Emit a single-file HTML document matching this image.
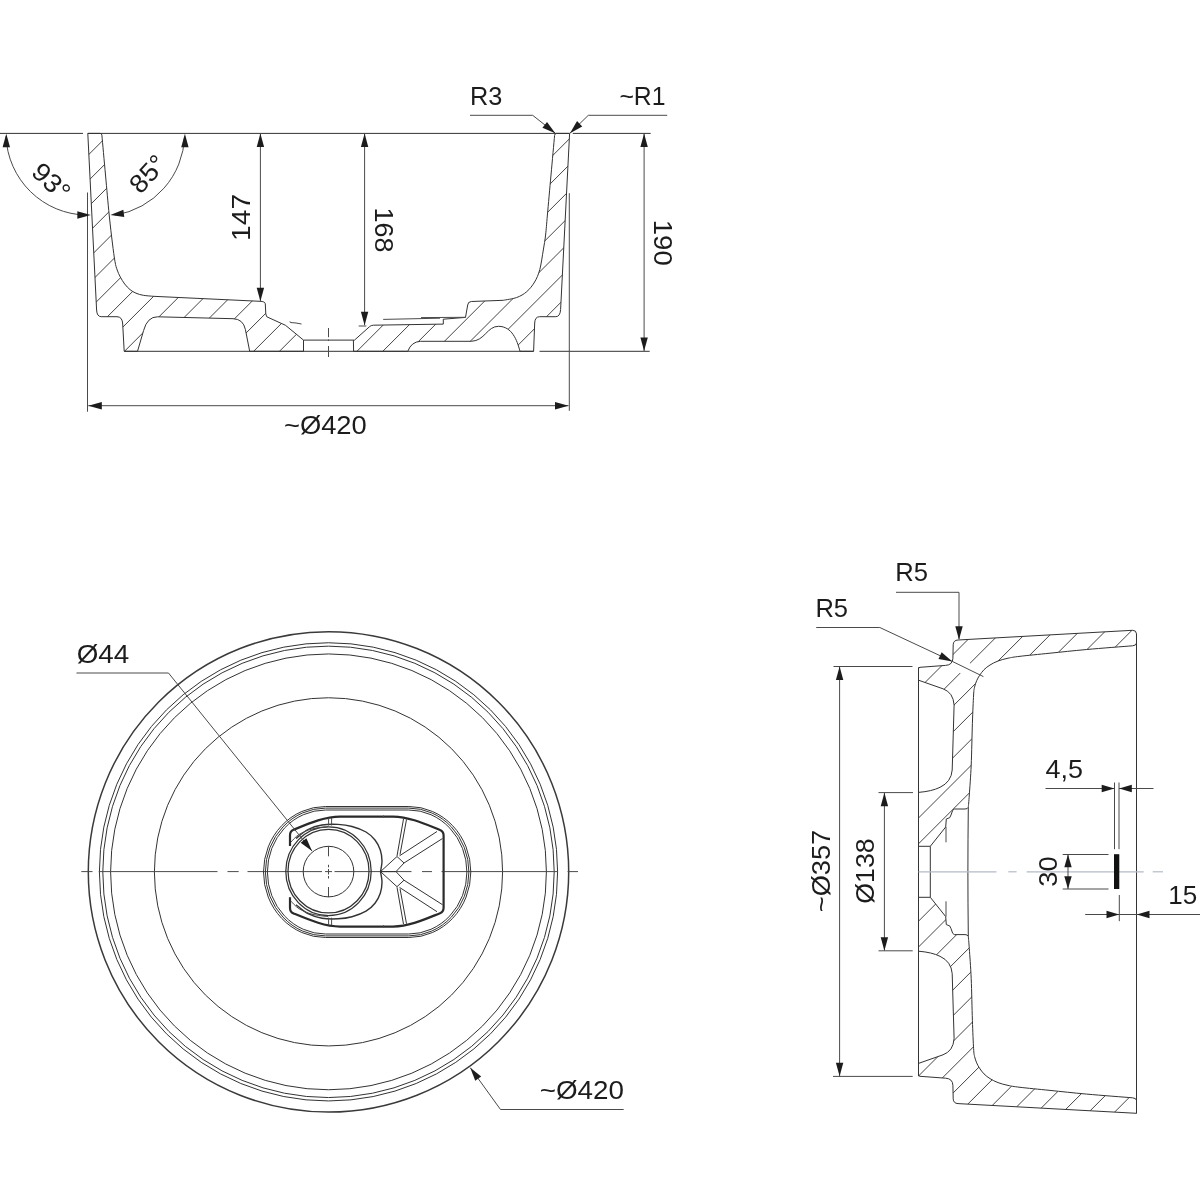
<!DOCTYPE html>
<html lang="en"><head><meta charset="utf-8"><title>Washbasin technical drawing</title>
<style>
html,body{margin:0;padding:0;background:#fff}
body{width:1200px;height:1200px;overflow:hidden}
svg{display:block}
.l{fill:none;stroke:#333;stroke-width:1}
.t{fill:none;stroke:#4a4a4a;stroke-width:1}
.l2{fill:none;stroke:#333;stroke-width:1.25}
.h{fill:none;stroke:#3a3a3a;stroke-width:.95}
.b{fill:none;stroke:#2a2a2a;stroke-width:2.2;stroke-linejoin:round}
.c{fill:none;stroke:#b4bac6;stroke-width:1.2}
.a{fill:#1c1c1c;stroke:none}
text{font-family:"Liberation Sans",sans-serif;font-size:26px;fill:#1c1c1c;filter:grayscale(1)}
</style></head><body>
<svg width="1200" height="1200" viewBox="0 0 1200 1200">
<rect width="1200" height="1200" fill="#fff"/>
<g id="section-front">
<defs><clipPath id="cp1"><path d="M87.8,133.4 L100.2,133.4 Q101.7,133.4 101.9,135.2 L101.9,135.2C102.5,141.83 104.28,161.7 105.5,175C106.72,188.3 108.05,203.67 109.2,215C110.35,226.33 111.43,235.22 112.4,243C113.37,250.78 114.2,257.2 115,261.7C115.8,266.2 116.32,267.45 117.2,270C118.08,272.55 119.05,274.67 120.3,277C121.55,279.33 123.08,281.9 124.7,284C126.32,286.1 128.12,288.07 130,289.6C131.88,291.13 133.78,292.25 136,293.2C138.22,294.15 140.42,294.78 143.3,295.3C146.18,295.82 151.63,296.13 153.3,296.3L260,301.3 Q264.9,301.4 265.3,303.8 L265.8,314 L266.8,316.8 L285.5,325.3 L303.5,340.1 L303.5,351.3 L249.7,351.3 L245.4,329.5 Q243.2,319 233,318.7 L157.5,316.8 Q147.3,316.8 143.6,330.5 L137.5,351.3 L124.2,351.3 L122.7,324 Q122.4,316.8 117,316.7 L101.2,316.7 Q96.9,316.6 96.6,310 Z"/><path d="M353.6,351.3 L353.4,340.1 L354.5,340.1 L369.6,326.6 Q370.9,325.3 373.5,325.2 L443.3,324.1 L443.3,319.2 L465.5,317.4 L467.7,305 Q467.9,301.7 471.3,301.5 L503.3,300.3C505.53,299.83 512.8,298.93 516.7,297.5C520.6,296.07 523.72,294.28 526.7,291.7C529.68,289.12 532.42,285.7 534.6,282C536.78,278.3 538.35,274.83 539.8,269.5C541.25,264.17 542.33,255.75 543.3,250C544.27,244.25 544.92,240.83 545.6,235C546.28,229.17 546.5,225 547.4,215C548.3,205 549.8,188.27 551,175C552.2,161.73 554,142 554.6,135.4Q554.8,133.4 556.4,133.4 L569.6,133.4 L560.6,309.5 Q560.2,316.6 555.8,316.7 L539.6,316.7 Q534.9,316.8 534.7,323 L533.6,351.3 L520,351.3 C517,340 512,326.5 498.6,326.3 C487,326.2 485,340.8 471.3,341.3 L420.5,341.3 Q411.2,341.8 407.8,351.3 Z"/></clipPath></defs>
<g clip-path="url(#cp1)">
<line class="h" x1="80" y1="163.3" x2="580" y2="-336.7"/>
<line class="h" x1="80" y1="189.13" x2="580" y2="-310.87"/>
<line class="h" x1="80" y1="214.96" x2="580" y2="-285.04"/>
<line class="h" x1="80" y1="240.79" x2="580" y2="-259.21"/>
<line class="h" x1="80" y1="266.62" x2="580" y2="-233.38"/>
<line class="h" x1="80" y1="292.45" x2="580" y2="-207.55"/>
<line class="h" x1="80" y1="318.28" x2="580" y2="-181.72"/>
<line class="h" x1="80" y1="344.11" x2="580" y2="-155.89"/>
<line class="h" x1="80" y1="369.94" x2="580" y2="-130.06"/>
<line class="h" x1="80" y1="395.77" x2="580" y2="-104.23"/>
<line class="h" x1="80" y1="421.6" x2="580" y2="-78.4"/>
<line class="h" x1="80" y1="447.43" x2="580" y2="-52.57"/>
<line class="h" x1="80" y1="473.26" x2="580" y2="-26.74"/>
<line class="h" x1="80" y1="499.09" x2="580" y2="-0.91"/>
<line class="h" x1="80" y1="524.92" x2="580" y2="24.92"/>
<line class="h" x1="80" y1="550.75" x2="580" y2="50.75"/>
<line class="h" x1="80" y1="576.58" x2="580" y2="76.58"/>
<line class="h" x1="80" y1="602.41" x2="580" y2="102.41"/>
<line class="h" x1="80" y1="628.24" x2="580" y2="128.24"/>
<line class="h" x1="80" y1="654.07" x2="580" y2="154.07"/>
<line class="h" x1="80" y1="679.9" x2="580" y2="179.9"/>
<line class="h" x1="80" y1="705.73" x2="580" y2="205.73"/>
<line class="h" x1="80" y1="731.56" x2="580" y2="231.56"/>
<line class="h" x1="80" y1="757.39" x2="580" y2="257.39"/>
<line class="h" x1="80" y1="783.22" x2="580" y2="283.22"/>
<line class="h" x1="80" y1="809.05" x2="580" y2="309.05"/>
<line class="h" x1="80" y1="834.88" x2="580" y2="334.88"/>
</g>
<path class="l" d="M87.8,133.4 L100.2,133.4 Q101.7,133.4 101.9,135.2 L101.9,135.2C102.5,141.83 104.28,161.7 105.5,175C106.72,188.3 108.05,203.67 109.2,215C110.35,226.33 111.43,235.22 112.4,243C113.37,250.78 114.2,257.2 115,261.7C115.8,266.2 116.32,267.45 117.2,270C118.08,272.55 119.05,274.67 120.3,277C121.55,279.33 123.08,281.9 124.7,284C126.32,286.1 128.12,288.07 130,289.6C131.88,291.13 133.78,292.25 136,293.2C138.22,294.15 140.42,294.78 143.3,295.3C146.18,295.82 151.63,296.13 153.3,296.3L260,301.3 Q264.9,301.4 265.3,303.8 L265.8,314 L266.8,316.8 L285.5,325.3 L303.5,340.1 L303.5,351.3 L249.7,351.3 L245.4,329.5 Q243.2,319 233,318.7 L157.5,316.8 Q147.3,316.8 143.6,330.5 L137.5,351.3 L124.2,351.3 L122.7,324 Q122.4,316.8 117,316.7 L101.2,316.7 Q96.9,316.6 96.6,310 Z"/>
<path class="l" d="M353.6,351.3 L353.4,340.1 L354.5,340.1 L369.6,326.6 Q370.9,325.3 373.5,325.2 L443.3,324.1 L443.3,319.2 L465.5,317.4 L467.7,305 Q467.9,301.7 471.3,301.5 L503.3,300.3C505.53,299.83 512.8,298.93 516.7,297.5C520.6,296.07 523.72,294.28 526.7,291.7C529.68,289.12 532.42,285.7 534.6,282C536.78,278.3 538.35,274.83 539.8,269.5C541.25,264.17 542.33,255.75 543.3,250C544.27,244.25 544.92,240.83 545.6,235C546.28,229.17 546.5,225 547.4,215C548.3,205 549.8,188.27 551,175C552.2,161.73 554,142 554.6,135.4Q554.8,133.4 556.4,133.4 L569.6,133.4 L560.6,309.5 Q560.2,316.6 555.8,316.7 L539.6,316.7 Q534.9,316.8 534.7,323 L533.6,351.3 L520,351.3 C517,340 512,326.5 498.6,326.3 C487,326.2 485,340.8 471.3,341.3 L420.5,341.3 Q411.2,341.8 407.8,351.3 Z"/>
<line class="l" x1="0" y1="133.4" x2="83" y2="133.4"/>
<line class="l" x1="87.8" y1="133.4" x2="569.6" y2="133.4"/>
<line class="l" x1="572.8" y1="133.4" x2="650.7" y2="133.4"/>
<line class="l" x1="124.2" y1="351.3" x2="533.6" y2="351.3"/>
<line class="l" x1="539.5" y1="351.3" x2="649.7" y2="351.3"/>
<line class="l" x1="303.5" y1="340.1" x2="353.4" y2="340.1"/>
<path class="t" d="M290,321.4 L290.3,322.5 L296,323 L301.5,324"/>
<line class="t" x1="328.5" y1="328" x2="328.5" y2="337.2"/>
<line class="t" x1="328.5" y1="339.5" x2="328.5" y2="341"/>
<line class="t" x1="328.5" y1="346" x2="328.5" y2="357"/>
<line class="t" x1="383.2" y1="319.4" x2="440" y2="318.2"/>
<line class="t" x1="421" y1="317.6" x2="465.5" y2="317.3"/>
<line class="t" x1="358.7" y1="326" x2="366.3" y2="326"/>
<line class="t" x1="87.5" y1="192.5" x2="87.5" y2="411.7"/>
<line class="t" x1="569.3" y1="193.2" x2="569.3" y2="410.8"/>
<line class="t" x1="88.3" y1="405.7" x2="568.5" y2="405.7"/>
<polygon class="a" points="88.3,405.7 101.8,402 101.8,409.4"/>
<polygon class="a" points="568.5,405.7 555,409.4 555,402"/>
<text transform="translate(325.4 433.7) scale(1.052 1)" x="-39.44" y="0">~Ø420</text>
<line class="t" x1="260.4" y1="133.4" x2="260.4" y2="300.8"/>
<polygon class="a" points="260.4,133.4 264.1,146.9 256.7,146.9"/>
<polygon class="a" points="260.4,301.3 256.7,287.8 264.1,287.8"/>
<text transform="translate(250.2 217.1) rotate(-90) scale(1.083 1)" x="-22" y="0">147</text>
<line class="t" x1="364.6" y1="133.4" x2="364.6" y2="325.2"/>
<polygon class="a" points="364.6,133.4 368.3,146.9 360.9,146.9"/>
<polygon class="a" points="364.6,325.2 360.9,311.7 368.3,311.7"/>
<text transform="translate(374.6 230.4) rotate(90) scale(1.039 1)" x="-22.13" y="0">168</text>
<line class="t" x1="644.1" y1="133.4" x2="644.1" y2="351"/>
<polygon class="a" points="644.1,133.4 647.8,146.9 640.4,146.9"/>
<polygon class="a" points="644.1,351.1 640.4,337.6 647.8,337.6"/>
<text transform="translate(654.3 243.2) rotate(90) scale(1.064 1)" x="-22.13" y="0">190</text>
<path class="t" d="M470,115.3 L532.7,115.3 L555.3,133.2"/>
<polygon class="a" points="555.3,133.2 542.42,127.72 547.01,121.92"/>
<path class="t" d="M667.2,115.3 L588.3,115.3 L570,133.2"/>
<polygon class="a" points="570,133.2 577.06,121.12 582.24,126.41"/>
<text transform="translate(486.6 104.5) scale(0.973 1)" x="-17.19" y="0">R3</text>
<text transform="translate(642.4 104.5) scale(0.953 1)" x="-24.13" y="0">~R1</text>
<path class="t" d="M6,136.4 A82,82 0 0 0 86.29,215.09"/>
<polygon class="a" points="6.3,133.8 10,147.3 2.6,147.3"/>
<polygon class="a" points="90.8,215 77.3,218.7 77.3,211.3"/>
<text transform="translate(44.9 187.9) rotate(43.5) scale(1.062 1)" x="-19.4" y="0">93°</text>
<path class="t" d="M184.6,136.4 A82.6,82.6 0 0 1 115.2,215.09"/>
<polygon class="a" points="184.9,133.8 188.6,147.3 181.2,147.3"/>
<polygon class="a" points="110.4,215 123.35,209.68 124.25,217.03"/>
<text transform="translate(154.1 180.1) rotate(-47.5) scale(1.035 1)" x="-19.4" y="0">85°</text>
</g>
<g id="plan">
<circle cx="328.5" cy="871.85" r="240.2" fill="none" stroke="#3a3a3a" stroke-width="1.5"/>
<circle class="l" cx="328.5" cy="871.85" r="229.1"/>
<circle class="l" cx="328.5" cy="871.85" r="225.7"/>
<circle class="l" cx="328.5" cy="871.85" r="217.9"/>
<circle class="l" cx="328.5" cy="871.85" r="174.1"/>
<line class="t" x1="81.3" y1="871.6" x2="92.5" y2="871.6"/>
<line class="t" x1="98.8" y1="871.6" x2="217.5" y2="871.6"/>
<line class="t" x1="227.5" y1="871.6" x2="238.7" y2="871.6"/>
<line class="t" x1="247.5" y1="871.6" x2="322" y2="871.6"/>
<line class="t" x1="325" y1="871.6" x2="332" y2="871.6"/>
<line class="t" x1="334.5" y1="871.6" x2="411.5" y2="871.6"/>
<line class="t" x1="422" y1="871.6" x2="432" y2="871.6"/>
<line class="t" x1="441.5" y1="871.6" x2="558" y2="871.6"/>
<line class="t" x1="567.5" y1="871.6" x2="578" y2="871.6"/>
<line class="t" x1="328.5" y1="846.3" x2="328.5" y2="856.3"/>
<line class="t" x1="328.5" y1="864.8" x2="328.5" y2="867.3"/>
<line class="t" x1="328.5" y1="869" x2="328.5" y2="874.5"/>
<line class="t" x1="328.5" y1="876" x2="328.5" y2="878.5"/>
<line class="t" x1="328.5" y1="887" x2="328.5" y2="897"/>
<rect class="l" x="263.5" y="806.5" width="207.3" height="131" rx="62" ry="65.5"/>
<rect class="l" x="265.4" y="808.1" width="203.5" height="127.8" rx="60.1" ry="63.9"/>
<rect class="l" x="267.4" y="810" width="199.5" height="124" rx="58.1" ry="62"/>
<path class="b" d="M290,846 L290,835.5 Q290,831 293.5,829.8 C310,823 325,816.6 340,816.6 L393,816.6 C410,817 425,824 440,830 Q443.6,831.5 443.6,835.5 L443.6,871.6"/>
<path class="b" d="M290,897.2 L290,907.7 Q290,912.2 293.5,913.4 C310,920.2 325,926.6 340,926.6 L393,926.6 C410,926.2 425,919.2 440,913.2 Q443.6,911.7 443.6,907.7 L443.6,871.6"/>
<ellipse class="l2" cx="328.5" cy="871.2" rx="42.7" ry="44.35"/>
<ellipse class="l2" cx="328.5" cy="871.2" rx="40.5" ry="41.75"/>
<circle class="l" cx="328.5" cy="871.6" r="25.3"/>
<path class="l" d="M380.5,871.6C380.75,869.83 382.03,864.6 382,861C381.97,857.4 381.47,853.5 380.3,850C379.13,846.5 377.38,843 375,840C372.62,837 369.83,834.25 366,832C362.17,829.75 356.67,827.77 352,826.5C347.33,825.23 343,824.65 338,824.4C333,824.15 327,824.15 322,825C317,825.85 312.33,827.25 308,829.5C303.67,831.75 298,837 296,838.5" style="stroke-width:1.4"/>
<path class="l" d="M380.5,871.6C380.75,873.37 382.03,878.6 382,882.2C381.97,885.8 381.47,889.7 380.3,893.2C379.13,896.7 377.38,900.2 375,903.2C372.62,906.2 369.83,908.95 366,911.2C362.17,913.45 356.67,915.43 352,916.7C347.33,917.97 343,918.55 338,918.8C333,919.05 327,919.05 322,918.2C317,917.35 312.33,915.95 308,913.7C303.67,911.45 298,906.2 296,904.7" style="stroke-width:1.4"/>
<path class="t" d="M291,842C292.33,840.75 295.5,836.67 299,834.5C302.5,832.33 307.17,830.32 312,829C316.83,827.68 325.33,827 328,826.6"/>
<path class="t" d="M291,901.2C292.33,902.45 295.5,906.53 299,908.7C302.5,910.87 307.17,912.88 312,914.2C316.83,915.52 325.33,916.2 328,916.6"/>
<line class="t" x1="328.6" y1="818" x2="328.6" y2="825.5"/>
<line class="t" x1="328.6" y1="925.2" x2="328.6" y2="917.7"/>
<line class="t" x1="331.6" y1="818" x2="331.6" y2="825.5"/>
<line class="t" x1="331.6" y1="925.2" x2="331.6" y2="917.7"/>
<line class="t" x1="383.5" y1="815.5" x2="383.5" y2="818"/>
<line class="t" x1="383.5" y1="927.7" x2="383.5" y2="925.2"/>
<line class="l" x1="380.5" y1="871.6" x2="397" y2="856.5"/>
<line class="l" x1="396" y1="871.6" x2="404" y2="863"/>
<line class="l" x1="397" y1="856.5" x2="404" y2="863"/>
<line class="l" x1="399.5" y1="855.8" x2="437" y2="831.5"/>
<line class="l" x1="404" y1="863" x2="442.5" y2="838.5"/>
<line class="l" x1="397" y1="856" x2="403.5" y2="819"/>
<line class="l" x1="400" y1="854.5" x2="406.5" y2="819.5"/>
<line class="l" x1="380.5" y1="871.6" x2="397" y2="886.7"/>
<line class="l" x1="396" y1="871.6" x2="404" y2="880.2"/>
<line class="l" x1="397" y1="886.7" x2="404" y2="880.2"/>
<line class="l" x1="399.5" y1="887.4" x2="437" y2="911.7"/>
<line class="l" x1="404" y1="880.2" x2="442.5" y2="904.7"/>
<line class="l" x1="397" y1="887.2" x2="403.5" y2="924.2"/>
<line class="l" x1="400" y1="888.7" x2="406.5" y2="923.7"/>
<line class="l" x1="380.5" y1="871.6" x2="396" y2="871.6"/>
<path class="t" d="M76.5,673 L168.5,673 L312,851"/>
<polygon class="a" points="312,851 300.65,842.81 306.41,838.17"/>
<text transform="translate(103 662.8) scale(1.070 1)" x="-24.62" y="0">Ø44</text>
<path class="t" d="M623.7,1109.5 L500.5,1109.5 L470.3,1067.7"/>
<polygon class="a" points="470.3,1067.7 481.21,1076.48 475.21,1080.81"/>
<text transform="translate(581.9 1099.2) scale(1.070 1)" x="-39.44" y="0">~Ø420</text>
</g>
<g id="section-side">
<defs><clipPath id="cp3"><path d="M918.5,668.9 Q918.5,667.4 920,667.3 L945.6,665.4 Q952.6,665 952.9,658.3 L953.2,644.8 Q953.4,640.2 958,640 L1132.5,630.3 Q1136.4,630.2 1136.5,633.9 L1136.5,643.1 Q1136.3,645.6 1132.5,645.8 L1132.5,645.8C1124.87,646.42 1100.45,648.27 1086.7,649.5C1072.95,650.73 1061.12,652.07 1050,653.2C1038.88,654.33 1027,655.47 1020,656.3C1013,657.13 1011.67,657.42 1008,658.2C1004.33,658.98 1001,659.87 998,661C995,662.13 992.33,663.55 990,665C987.67,666.45 985.75,667.95 984,669.7C982.25,671.45 980.72,673.67 979.5,675.5C978.28,677.33 977.52,678.78 976.7,680.7C975.88,682.62 975.12,684.62 974.6,687C974.08,689.38 973.97,688.95 973.6,695C973.23,701.05 972.8,711.63 972.4,723.3C972,734.97 971.72,753.05 971.2,765C970.68,776.95 969.78,787.95 969.3,795C968.82,802.05 968.47,805.25 968.3,807.3Q967.6,809 965,809 L954.3,809 L952.7,810.3 L951,815 L949.7,817.7 L946.3,819 L945.7,827 L930.3,846.3 L918.5,846.3 L918.5,792.4 Q932,791.3 940,787.3 Q951.3,782 952.2,770 L954.1,705 Q953.3,692.5 943,688.8 L918.5,680.2 Z"/><path d="M918.5,668.9 Q918.5,667.4 920,667.3 L945.6,665.4 Q952.6,665 952.9,658.3 L953.2,644.8 Q953.4,640.2 958,640 L1136.5,630.3 L1136.5,643.1 Q1136.3,645.6 1132.5,645.8 L1132.5,645.8C1124.87,646.42 1100.45,648.27 1086.7,649.5C1072.95,650.73 1061.12,652.07 1050,653.2C1038.88,654.33 1027,655.47 1020,656.3C1013,657.13 1011.67,657.42 1008,658.2C1004.33,658.98 1001,659.87 998,661C995,662.13 992.33,663.55 990,665C987.67,666.45 985.75,667.95 984,669.7C982.25,671.45 980.72,673.67 979.5,675.5C978.28,677.33 977.52,678.78 976.7,680.7C975.88,682.62 975.12,684.62 974.6,687C974.08,689.38 973.97,688.95 973.6,695C973.23,701.05 972.8,711.63 972.4,723.3C972,734.97 971.72,753.05 971.2,765C970.68,776.95 969.78,787.95 969.3,795C968.82,802.05 968.47,805.25 968.3,807.3Q967.6,809 965,809 L954.3,809 L952.7,810.3 L951,815 L949.7,817.7 L946.3,819 L945.7,827 L930.3,846.3 L918.5,846.3 L918.5,792.4 Q932,791.3 940,787.3 Q951.3,782 952.2,770 L954.1,705 Q953.3,692.5 943,688.8 L918.5,680.2 Z" transform="matrix(1 0 0 -1 0 1743.6)"/></clipPath></defs>
<g clip-path="url(#cp3)">
<line class="h" x1="900" y1="655.9" x2="1150" y2="405.9"/>
<line class="h" x1="900" y1="681.7" x2="1150" y2="431.7"/>
<line class="h" x1="900" y1="707.5" x2="1150" y2="457.5"/>
<line class="h" x1="900" y1="733.3" x2="1150" y2="483.3"/>
<line class="h" x1="900" y1="759.1" x2="1150" y2="509.1"/>
<line class="h" x1="900" y1="784.9" x2="1150" y2="534.9"/>
<line class="h" x1="900" y1="810.7" x2="1150" y2="560.7"/>
<line class="h" x1="900" y1="836.5" x2="1150" y2="586.5"/>
<line class="h" x1="900" y1="862.3" x2="1150" y2="612.3"/>
<line class="h" x1="900" y1="888.1" x2="1150" y2="638.1"/>
<line class="h" x1="900" y1="913.9" x2="1150" y2="663.9"/>
<line class="h" x1="900" y1="939.7" x2="1150" y2="689.7"/>
<line class="h" x1="900" y1="965.5" x2="1150" y2="715.5"/>
<line class="h" x1="900" y1="991.3" x2="1150" y2="741.3"/>
<line class="h" x1="900" y1="1017.1" x2="1150" y2="767.1"/>
<line class="h" x1="900" y1="1042.9" x2="1150" y2="792.9"/>
<line class="h" x1="900" y1="1068.7" x2="1150" y2="818.7"/>
<line class="h" x1="900" y1="1094.5" x2="1150" y2="844.5"/>
<line class="h" x1="900" y1="1120.3" x2="1150" y2="870.3"/>
<line class="h" x1="900" y1="1146.1" x2="1150" y2="896.1"/>
<line class="h" x1="900" y1="1171.9" x2="1150" y2="921.9"/>
<line class="h" x1="900" y1="1197.7" x2="1150" y2="947.7"/>
<line class="h" x1="900" y1="1223.5" x2="1150" y2="973.5"/>
<line class="h" x1="900" y1="1249.3" x2="1150" y2="999.3"/>
<line class="h" x1="900" y1="1275.1" x2="1150" y2="1025.1"/>
<line class="h" x1="900" y1="1300.9" x2="1150" y2="1050.9"/>
<line class="h" x1="900" y1="1326.7" x2="1150" y2="1076.7"/>
<line class="h" x1="900" y1="1352.5" x2="1150" y2="1102.5"/>
<line class="h" x1="900" y1="1378.3" x2="1150" y2="1128.3"/>
</g>
<line x1="960.3" y1="673" x2="970" y2="663.3" stroke="#fff" stroke-width="2.4"/>
<path class="l" d="M918.5,668.9 Q918.5,667.4 920,667.3 L945.6,665.4 Q952.6,665 952.9,658.3 L953.2,644.8 Q953.4,640.2 958,640 L1132.5,630.3 Q1136.4,630.2 1136.5,633.9 L1136.5,643.1 Q1136.3,645.6 1132.5,645.8 L1132.5,645.8C1124.87,646.42 1100.45,648.27 1086.7,649.5C1072.95,650.73 1061.12,652.07 1050,653.2C1038.88,654.33 1027,655.47 1020,656.3C1013,657.13 1011.67,657.42 1008,658.2C1004.33,658.98 1001,659.87 998,661C995,662.13 992.33,663.55 990,665C987.67,666.45 985.75,667.95 984,669.7C982.25,671.45 980.72,673.67 979.5,675.5C978.28,677.33 977.52,678.78 976.7,680.7C975.88,682.62 975.12,684.62 974.6,687C974.08,689.38 973.97,688.95 973.6,695C973.23,701.05 972.8,711.63 972.4,723.3C972,734.97 971.72,753.05 971.2,765C970.68,776.95 969.78,787.95 969.3,795C968.82,802.05 968.47,805.25 968.3,807.3Q967.6,809 965,809 L954.3,809 L952.7,810.3 L951,815 L949.7,817.7 L946.3,819 L945.7,827 L930.3,846.3 L918.5,846.3 L918.5,792.4 Q932,791.3 940,787.3 Q951.3,782 952.2,770 L954.1,705 Q953.3,692.5 943,688.8 L918.5,680.2 Z"/>
<path class="l" d="M918.5,668.9 Q918.5,667.4 920,667.3 L945.6,665.4 Q952.6,665 952.9,658.3 L953.2,644.8 Q953.4,640.2 958,640 L1136.5,630.3 L1136.5,643.1 Q1136.3,645.6 1132.5,645.8 L1132.5,645.8C1124.87,646.42 1100.45,648.27 1086.7,649.5C1072.95,650.73 1061.12,652.07 1050,653.2C1038.88,654.33 1027,655.47 1020,656.3C1013,657.13 1011.67,657.42 1008,658.2C1004.33,658.98 1001,659.87 998,661C995,662.13 992.33,663.55 990,665C987.67,666.45 985.75,667.95 984,669.7C982.25,671.45 980.72,673.67 979.5,675.5C978.28,677.33 977.52,678.78 976.7,680.7C975.88,682.62 975.12,684.62 974.6,687C974.08,689.38 973.97,688.95 973.6,695C973.23,701.05 972.8,711.63 972.4,723.3C972,734.97 971.72,753.05 971.2,765C970.68,776.95 969.78,787.95 969.3,795C968.82,802.05 968.47,805.25 968.3,807.3Q967.6,809 965,809 L954.3,809 L952.7,810.3 L951,815 L949.7,817.7 L946.3,819 L945.7,827 L930.3,846.3 L918.5,846.3 L918.5,792.4 Q932,791.3 940,787.3 Q951.3,782 952.2,770 L954.1,705 Q953.3,692.5 943,688.8 L918.5,680.2 Z" transform="matrix(1 0 0 -1 0 1743.6)"/>
<line class="l" x1="918.5" y1="667.4" x2="918.5" y2="1076.2"/>
<line class="l" x1="1136.5" y1="633.9" x2="1136.5" y2="1113.3"/>
<path class="l" d="M968.3,807.3 Q967.9,840 967.9,871.8 Q967.9,903.6 968.3,936.3"/>
<path class="l" d="M930.3,846.3 L930.3,897.3"/>
<line class="t" x1="946" y1="827" x2="946" y2="842.3"/>
<line class="t" x1="946" y1="916.6" x2="946" y2="901.3"/>
<line class="c" x1="918.5" y1="871.8" x2="996.4" y2="871.8"/>
<line class="c" x1="1008.3" y1="871.8" x2="1016.6" y2="871.8"/>
<line class="c" x1="1026.7" y1="871.8" x2="1143.7" y2="871.8"/>
<line class="c" x1="1152.7" y1="871.8" x2="1163" y2="871.8"/>
<path class="t" d="M896,592.3 L959,592.3 L959,639"/>
<polygon class="a" points="959,639.8 955.3,626.3 962.7,626.3"/>
<text transform="translate(912.2 581.3) scale(0.986 1)" x="-17.19" y="0">R5</text>
<path class="t" d="M816.2,627.5 L879.8,627.5 L952.3,661.4 L983.4,676.6"/>
<polygon class="a" points="952.3,661.4 938.5,659.03 941.64,652.33"/>
<text transform="translate(832.3 616.6) scale(0.983 1)" x="-17.19" y="0">R5</text>
<line class="t" x1="833.5" y1="666.5" x2="912.5" y2="666.5"/>
<line class="t" x1="833" y1="1076.4" x2="912.7" y2="1076.4"/>
<line class="t" x1="839.6" y1="666.5" x2="839.6" y2="1076.4"/>
<polygon class="a" points="839.6,666.6 843.3,680.1 835.9,680.1"/>
<polygon class="a" points="839.6,1076.3 835.9,1062.8 843.3,1062.8"/>
<text transform="translate(830 871.1) rotate(-90) scale(1.048 1)" x="-39.31" y="0">~Ø357</text>
<line class="t" x1="878.5" y1="792.6" x2="913" y2="792.6"/>
<line class="t" x1="878.5" y1="950.8" x2="912.7" y2="950.8"/>
<line class="t" x1="884.4" y1="792.7" x2="884.4" y2="950.6"/>
<polygon class="a" points="884.4,792.7 888.1,806.2 880.7,806.2"/>
<polygon class="a" points="884.4,950.7 880.7,937.2 888.1,937.2"/>
<text transform="translate(874.2 871.1) rotate(-90) scale(1.029 1)" x="-31.72" y="0">Ø138</text>
<rect x="1114" y="854.2" width="5.3" height="34.8" fill="#111"/>
<line class="t" x1="1114.5" y1="782.5" x2="1114.5" y2="849.2"/>
<line class="t" x1="1119" y1="782.5" x2="1119" y2="849.2"/>
<line class="t" x1="1119.3" y1="895" x2="1119.3" y2="921.2"/>
<line class="t" x1="1045.5" y1="788.5" x2="1114.5" y2="788.5"/>
<polygon class="a" points="1114.4,788.5 1101.7,792.2 1101.7,784.8"/>
<line class="t" x1="1119" y1="788.5" x2="1153.5" y2="788.5"/>
<polygon class="a" points="1119.1,788.5 1131.8,784.8 1131.8,792.2"/>
<text transform="translate(1064.1 778) scale(1.038 1)" x="-17.86" y="0">4,5</text>
<line class="t" x1="1062.7" y1="854.5" x2="1108.5" y2="854.5"/>
<line class="t" x1="1062.7" y1="889" x2="1108.5" y2="889"/>
<line class="t" x1="1068" y1="854.5" x2="1068" y2="889"/>
<polygon class="a" points="1068,854.6 1071.7,867.3 1064.3,867.3"/>
<polygon class="a" points="1068,888.9 1064.3,876.2 1071.7,876.2"/>
<text transform="translate(1056.7 871.7) rotate(-90) scale(1.048 1)" x="-14.38" y="0">30</text>
<line class="t" x1="1085.2" y1="914.5" x2="1200" y2="914.5"/>
<polygon class="a" points="1119.2,914.5 1106.5,918.2 1106.5,910.8"/>
<polygon class="a" points="1136.8,914.5 1149.5,910.8 1149.5,918.2"/>
<text transform="translate(1183.1 904.3)" x="-14.9" y="0">15</text>
</g>
</svg>
</body></html>
